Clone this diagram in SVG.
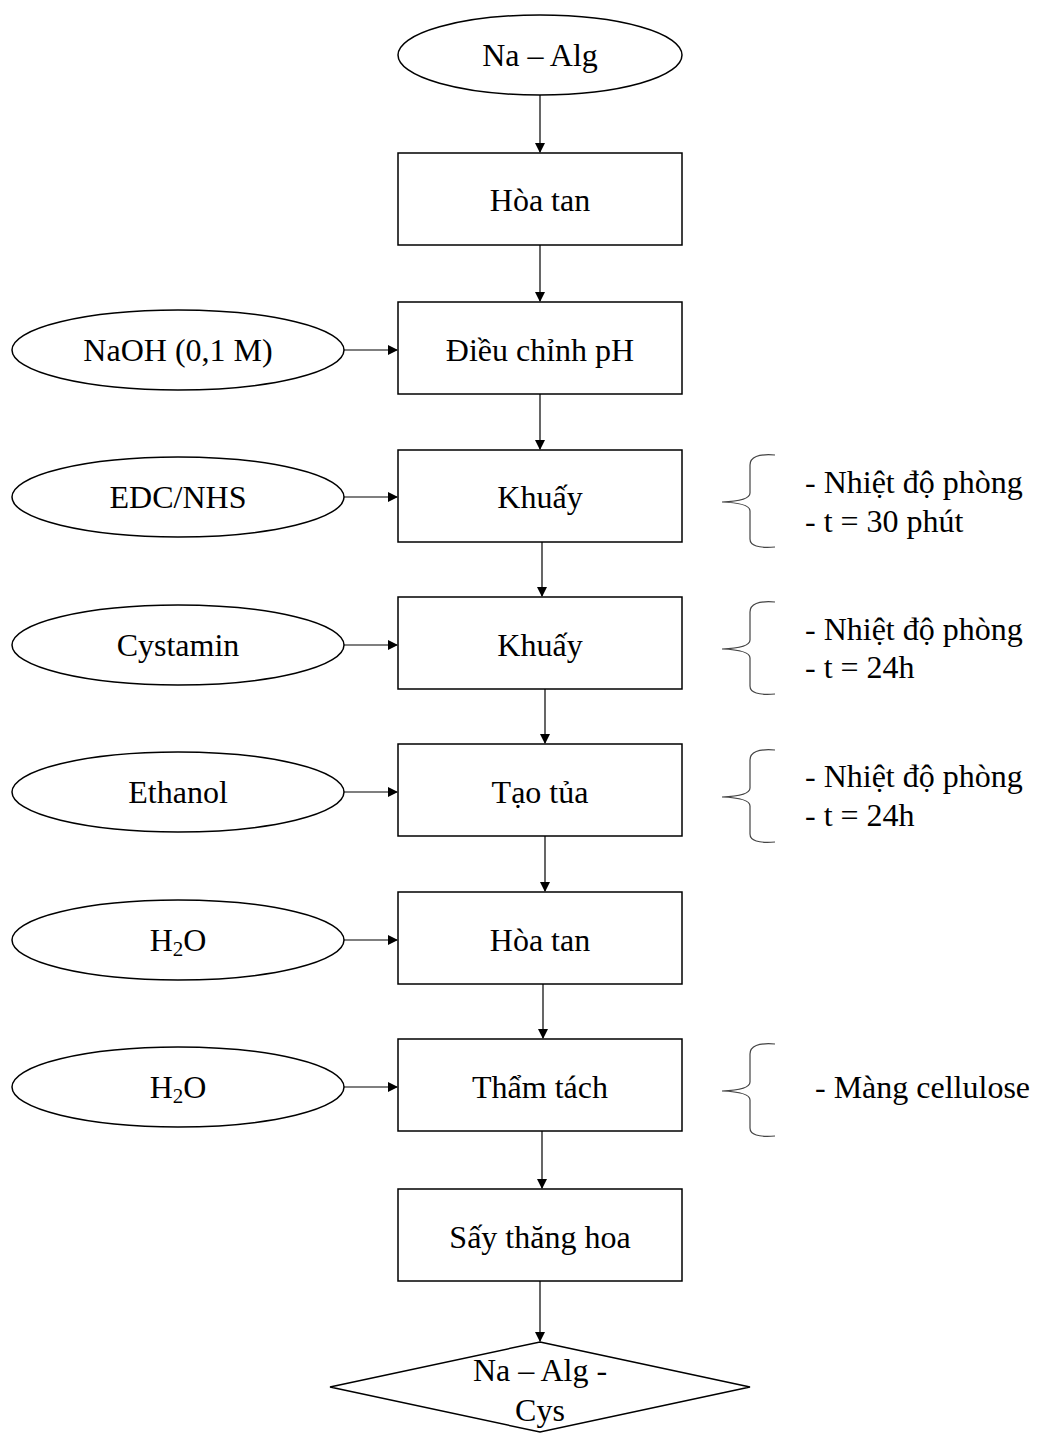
<svg xmlns="http://www.w3.org/2000/svg" width="1039" height="1433" viewBox="0 0 1039 1433">
<style>
.s{fill:#fff;stroke:#000;stroke-width:1.5}
.t{font-family:"Liberation Serif","Times New Roman",serif;font-size:32px;fill:#000;text-anchor:middle;dominant-baseline:central}
.r{font-family:"Liberation Serif","Times New Roman",serif;font-size:32px;fill:#000;dominant-baseline:central}
.c{fill:none;stroke:#000;stroke-width:1.2}
.b{fill:none;stroke:#444;stroke-width:1.2}
</style>
<defs>
<marker id="a" markerWidth="10" markerHeight="10" refX="9" refY="5" orient="auto" markerUnits="userSpaceOnUse">
<path d="M0,0 L10,5 L0,10 z" fill="#000"/>
</marker>
</defs>
<rect width="1039" height="1433" fill="#fff"/>
<g id="connectors">
<line class="c" x1="540" y1="95" x2="540" y2="152" marker-end="url(#a)"/>
<line class="c" x1="540" y1="245" x2="540" y2="301" marker-end="url(#a)"/>
<line class="c" x1="540" y1="394" x2="540" y2="449" marker-end="url(#a)"/>
<line class="c" x1="542" y1="542" x2="542" y2="596" marker-end="url(#a)"/>
<line class="c" x1="545" y1="689" x2="545" y2="743" marker-end="url(#a)"/>
<line class="c" x1="545" y1="836" x2="545" y2="891" marker-end="url(#a)"/>
<line class="c" x1="543" y1="984" x2="543" y2="1038" marker-end="url(#a)"/>
<line class="c" x1="542" y1="1131" x2="542" y2="1188" marker-end="url(#a)"/>
<line class="c" x1="540" y1="1281" x2="540" y2="1341" marker-end="url(#a)"/>
<line class="c" x1="344" y1="350" x2="397" y2="350" marker-end="url(#a)"/>
<line class="c" x1="344" y1="497" x2="397" y2="497" marker-end="url(#a)"/>
<line class="c" x1="344" y1="645" x2="397" y2="645" marker-end="url(#a)"/>
<line class="c" x1="344" y1="792" x2="397" y2="792" marker-end="url(#a)"/>
<line class="c" x1="344" y1="940" x2="397" y2="940" marker-end="url(#a)"/>
<line class="c" x1="344" y1="1087" x2="397" y2="1087" marker-end="url(#a)"/>
</g>
<g id="start"><ellipse class="s" cx="540" cy="55" rx="142" ry="40"/><text class="t" x="540" y="55">Na – Alg</text></g>
<g id="box1"><rect class="s" x="398" y="153" width="284" height="92"/><text class="t" x="540" y="200">Hòa tan</text></g>
<g id="box2"><rect class="s" x="398" y="302" width="284" height="92"/><text class="t" x="540" y="350">Điều chỉnh pH</text></g>
<g id="box3"><rect class="s" x="398" y="450" width="284" height="92"/><text class="t" x="540" y="497">Khuấy</text></g>
<g id="box4"><rect class="s" x="398" y="597" width="284" height="92"/><text class="t" x="540" y="645">Khuấy</text></g>
<g id="box5"><rect class="s" x="398" y="744" width="284" height="92"/><text class="t" x="540" y="792">Tạo tủa</text></g>
<g id="box6"><rect class="s" x="398" y="892" width="284" height="92"/><text class="t" x="540" y="940">Hòa tan</text></g>
<g id="box7"><rect class="s" x="398" y="1039" width="284" height="92"/><text class="t" x="540" y="1087">Thẩm tách</text></g>
<g id="box8"><rect class="s" x="398" y="1189" width="284" height="92"/><text class="t" x="540" y="1237">Sấy thăng hoa</text></g>
<g id="end"><polygon class="s" points="540,1342 750,1387 540,1432 330,1387"/><text class="t" x="540" y="1370">Na – Alg -</text><text class="t" x="540" y="1410">Cys</text></g>
<g id="in1"><ellipse class="s" cx="178" cy="350" rx="166" ry="40"/><text class="t" x="178" y="350">NaOH (0,1 M)</text></g>
<g id="in2"><ellipse class="s" cx="178" cy="497" rx="166" ry="40"/><text class="t" x="178" y="497">EDC/NHS</text></g>
<g id="in3"><ellipse class="s" cx="178" cy="645" rx="166" ry="40"/><text class="t" x="178" y="645">Cystamin</text></g>
<g id="in4"><ellipse class="s" cx="178" cy="792" rx="166" ry="40"/><text class="t" x="178" y="792">Ethanol</text></g>
<g id="in5"><ellipse class="s" cx="178" cy="940" rx="166" ry="40"/><text class="t" x="178" y="940">H<tspan font-size="21" dy="9">2</tspan><tspan dy="-9">O</tspan></text></g>
<g id="in6"><ellipse class="s" cx="178" cy="1087" rx="166" ry="40"/><text class="t" x="178" y="1087">H<tspan font-size="21" dy="9">2</tspan><tspan dy="-9">O</tspan></text></g>
<g id="note1"><path class="b" d="M775,455 Q750,453 750,465 L750,493 Q750,501 722,502 Q750,503 750,511 L750,539 Q750,549 775,547"/><text class="r" x="805" y="482">- Nhiệt độ phòng</text><text class="r" x="805" y="521">- t = 30 phút</text></g>
<g id="note2"><path class="b" d="M775,602 Q750,600 750,612 L750,640 Q750,648 722,649 Q750,650 750,658 L750,686 Q750,696 775,694"/><text class="r" x="805" y="629">- Nhiệt độ phòng</text><text class="r" x="805" y="667">- t = 24h</text></g>
<g id="note3"><path class="b" d="M775,750 Q750,748 750,760 L750,788 Q750,796 722,797 Q750,798 750,806 L750,834 Q750,844 775,842"/><text class="r" x="805" y="776">- Nhiệt độ phòng</text><text class="r" x="805" y="815">- t = 24h</text></g>
<g id="note4"><path class="b" d="M775,1044 Q750,1042 750,1054 L750,1082 Q750,1090 722,1091 Q750,1092 750,1100 L750,1128 Q750,1138 775,1136"/><text class="r" x="815" y="1087">- Màng cellulose</text></g>
</svg>
